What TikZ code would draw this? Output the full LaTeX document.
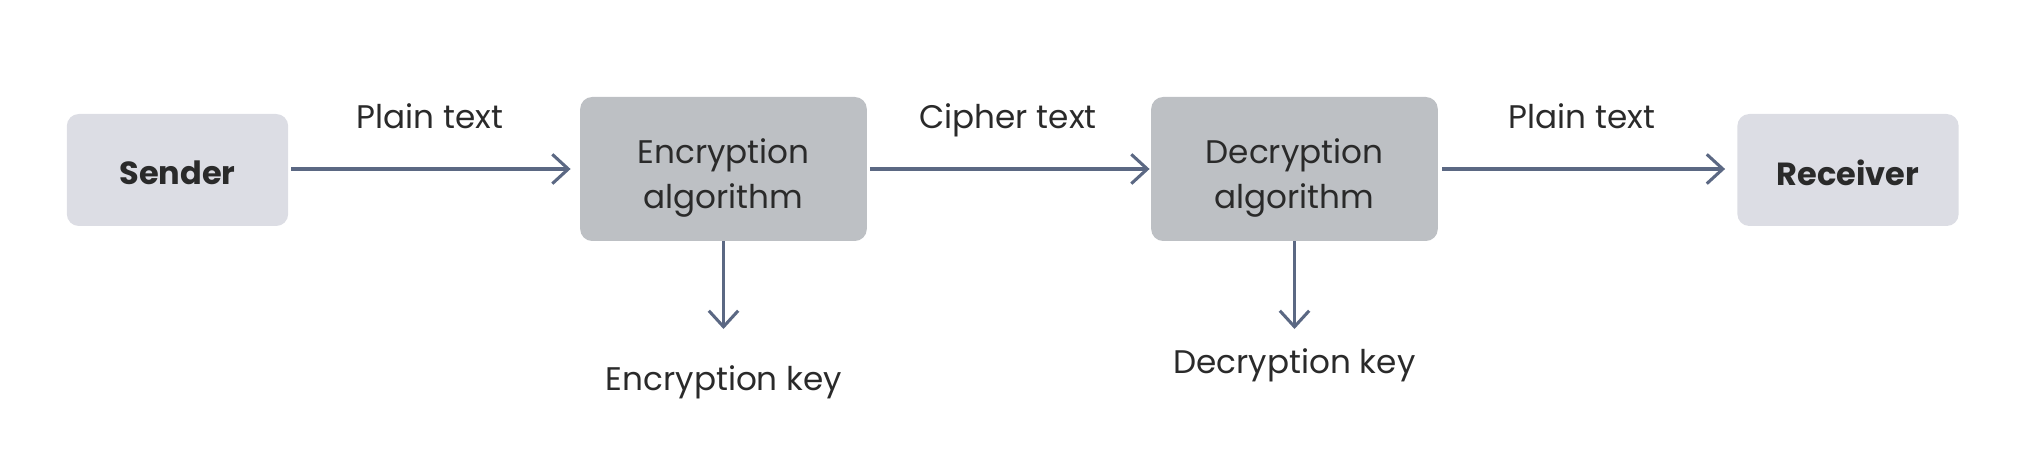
\documentclass[tikz,border=0pt]{standalone}
\usepackage{fontspec}
\setmainfont{Poppins}
\usetikzlibrary{arrows.meta}
\definecolor{lightbox}{HTML}{DCDDE4}
\definecolor{algbox}{HTML}{BDC0C4}
\definecolor{arrowc}{HTML}{5B6883}
\definecolor{txt}{HTML}{2A2A2A}
\tikzset{
  endbox/.style={fill=lightbox, rounded corners=9pt, minimum width=166pt, minimum height=84pt,
    inner sep=0pt},
  endtext/.style={text=txt, inner sep=0pt, font=\fontsize{24}{34}\selectfont\bfseries, yshift=-2pt},
  algobox/.style={fill=algbox, rounded corners=9pt, minimum width=215pt, minimum height=108pt,
    inner sep=0pt},
  boxtext/.style={align=center, text=txt, inner sep=0pt, font=\fontsize{24.5}{34}\selectfont, yshift=-6.5pt},
  flow/.style={draw=arrowc, line width=2.3pt, -{Straight Barb[length=12pt, width=22pt, line width=2.3pt]}},
  lbl/.style={text=txt, font=\fontsize{24.5}{34}\selectfont, inner sep=0pt}
}
\begin{document}
\begin{tikzpicture}[x=0.75pt, y=-0.75pt]
\useasboundingbox (0,0) rectangle (2036,456);
\node[endbox, label={[endtext]center:Sender}] (sender) at (177.5,170) {};
\node[algobox, label={[boxtext]center:Encryption\\algorithm}] (enc) at (723.5,169) {};
\node[algobox, label={[boxtext]center:Decryption\\algorithm}] (dec) at (1294.5,169) {};
\node[endbox, label={[endtext]center:Receiver}] (recv) at (1848,170) {};
\node[lbl, anchor=base] (pt1) at (430,129) {Plain text};
\node[lbl, anchor=base] (ct) at (1008,129) {Cipher text};
\node[lbl, anchor=base] (pt2) at (1582,129) {Plain text};
\node[lbl] (ek) at (724,382) {Encryption key};
\node[lbl] (dk) at (1294.5,365) {Decryption key};
\coordinate (ekend) at (723.5,329);
\coordinate (dkend) at (1294.5,329);
\draw[flow, shorten <=2pt, shorten >=7pt] (sender.east |- 0,169) -- (enc.west);
\draw[flow, shorten <=2pt, shorten >=1pt] (enc.east) -- (dec.west);
\draw[flow, shorten <=3pt, shorten >=9pt] (dec.east) -- (recv.west |- 0,169);
\draw[flow] (enc.south) -- (ekend);
\draw[flow] (dec.south) -- (dkend);
\end{tikzpicture}
\end{document}
